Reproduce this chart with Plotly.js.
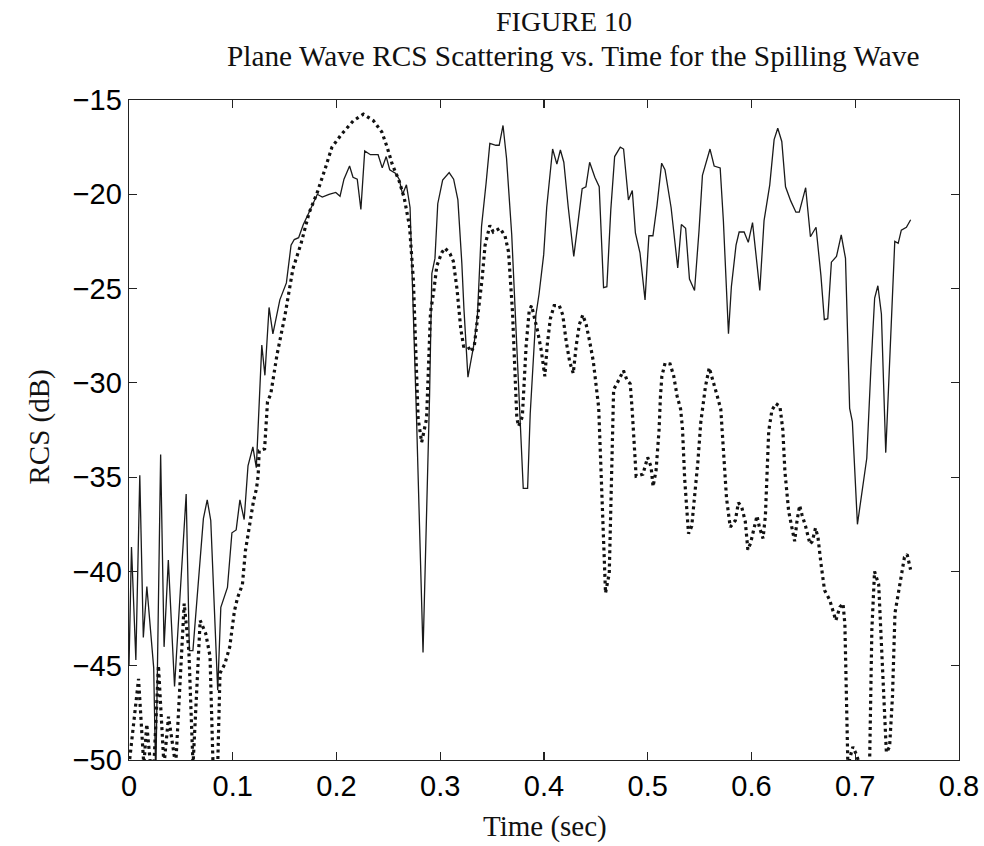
<!DOCTYPE html>
<html>
<head>
<meta charset="utf-8">
<script src="https://cdn.plot.ly/plotly-3.0.1.min.js"></script>
<style>html,body{margin:0;padding:0;background:#fff;}#chart{width:984px;height:846px;}</style>
</head>
<body>
<div id="chart"></div>
<script>
// Solid line: time (sec) and RCS (dB)
const solidTime = [0, 0.0024, 0.0066, 0.0104, 0.0138, 0.0172, 0.0238, 0.0258, 0.0305, 0.0338, 0.0379, 0.0439, 0.0551, 0.0582, 0.0616, 0.0717, 0.0754, 0.0788, 0.0855, 0.0885, 0.0949, 0.0992, 0.1033, 0.1069, 0.111, 0.1147, 0.1194, 0.1227, 0.128, 0.131, 0.135, 0.1387, 0.1454, 0.1517, 0.1562, 0.1593, 0.1635, 0.168, 0.1736, 0.1767, 0.1815, 0.1863, 0.1928, 0.1993, 0.2034, 0.2072, 0.2126, 0.2159, 0.22, 0.2235, 0.2272, 0.2327, 0.2401, 0.2441, 0.2479, 0.2513, 0.2571, 0.2604, 0.2637, 0.2674, 0.2709, 0.2771, 0.2834, 0.2897, 0.2919, 0.2949, 0.2976, 0.3023, 0.3086, 0.3129, 0.317, 0.3208, 0.3228, 0.3267, 0.3298, 0.3328, 0.3358, 0.3398, 0.3442, 0.3478, 0.3536, 0.3568, 0.3605, 0.3639, 0.3689, 0.38, 0.3842, 0.3867, 0.3922, 0.3952, 0.3997, 0.4026, 0.4083, 0.4124, 0.4158, 0.4191, 0.4234, 0.4287, 0.4332, 0.4368, 0.4404, 0.444, 0.449, 0.4532, 0.4574, 0.4606, 0.4644, 0.4681, 0.4735, 0.4767, 0.4814, 0.4851, 0.4881, 0.4925, 0.4974, 0.5011, 0.505, 0.5089, 0.5134, 0.5166, 0.5225, 0.5289, 0.5324, 0.5365, 0.5402, 0.5451, 0.5494, 0.5527, 0.56, 0.564, 0.5698, 0.5729, 0.5778, 0.5806, 0.5851, 0.5881, 0.5929, 0.5969, 0.601, 0.608, 0.6121, 0.6176, 0.6218, 0.6253, 0.6292, 0.6328, 0.6378, 0.6428, 0.646, 0.6522, 0.6568, 0.6591, 0.6622, 0.6669, 0.6702, 0.6735, 0.677, 0.6819, 0.6865, 0.6906, 0.6946, 0.6972, 0.7021, 0.7111, 0.7137, 0.7151, 0.7187, 0.7218, 0.7252, 0.7294, 0.7321, 0.7341, 0.7381, 0.7414, 0.7444, 0.7493, 0.7534];
const solidRCS = [-45, -38.7, -44.7, -34.9, -43.5, -40.8, -45.1, -51, -33.8, -44.0, -39.4, -46.1, -35.9, -44.2, -44.2, -37.2, -36.2, -37.3, -46.3, -41.9, -40.85, -37.95, -37.8, -36.2, -37.25, -34.4, -33.4, -34.5, -28.0, -29.6, -26.0, -27.4, -25.6, -24.7, -22.7, -22.4, -22.3, -21.6, -20.95, -20.55, -20.0, -20.15, -20.0, -19.9, -20.1, -19.2, -18.5, -19.1, -19.2, -20.8, -17.7, -17.9, -17.9, -18.6, -18.0, -18.7, -18.9, -19.2, -20.0, -19.5, -20.7, -31.8, -44.3, -30.7, -24.2, -23.4, -20.5, -19.25, -18.85, -19.2, -20.3, -23.65, -26.05, -29.7, -28.75, -27.85, -26.45, -21.7, -19.4, -17.3, -17.4, -17.4, -16.35, -18.1, -22.15, -35.6, -35.6, -31.65, -26.4, -25.3, -23.2, -20.7, -17.6, -18.4, -17.65, -18.3, -20.7, -23.3, -21.3, -19.7, -19.6, -18.3, -19.1, -19.6, -24.95, -24.9, -20.8, -18.0, -17.5, -17.6, -20.3, -19.8, -22.05, -23.1, -25.6, -22.2, -22.2, -20.6, -18.35, -18.7, -20.7, -23.9, -21.6, -21.8, -24.5, -25.1, -21.95, -19.0, -17.6, -18.5, -18.6, -21.4, -27.4, -24.9, -22.7, -22.0, -22.0, -22.55, -21.5, -25.1, -21.4, -19.5, -17.1, -16.5, -17.2, -19.6, -20.35, -20.95, -20.95, -19.65, -22.25, -22.0, -21.75, -24.3, -26.65, -26.6, -23.6, -23.3, -22.15, -23.4, -31.35, -32.05, -37.5, -34.0, -30.3, -29.2, -25.5, -24.85, -26.35, -33.7, -30.25, -27.45, -22.5, -22.6, -21.9, -21.75, -21.35];

// Dotted line: time (sec) and RCS (dB)
const dottedTime = [0.000, 0.0092, 0.0143, 0.0171, 0.0208, 0.024, 0.0284, 0.0337, 0.0381, 0.045, 0.0532, 0.0577, 0.0617, 0.0686, 0.074, 0.0781, 0.081, 0.0855, 0.0877, 0.0924, 0.0971, 0.1016, 0.1046, 0.1093, 0.1122, 0.1153, 0.1199, 0.1229, 0.1245, 0.1255, 0.1307, 0.1335, 0.1366, 0.1427, 0.1504, 0.158, 0.1659, 0.1735, 0.1815, 0.1893, 0.1956, 0.2051, 0.2163, 0.2259, 0.2356, 0.2437, 0.2488, 0.2537, 0.2604, 0.2653, 0.2704, 0.2741, 0.2787, 0.2821, 0.2868, 0.2906, 0.2936, 0.2967, 0.3014, 0.3045, 0.3094, 0.3126, 0.3162, 0.3198, 0.3225, 0.3264, 0.3297, 0.3328, 0.3358, 0.3403, 0.3432, 0.3478, 0.3511, 0.3576, 0.3624, 0.3658, 0.3696, 0.3738, 0.3755, 0.3791, 0.3828, 0.3857, 0.388, 0.3906, 0.394, 0.3974, 0.4008, 0.4031, 0.4061, 0.4098, 0.4147, 0.4181, 0.4214, 0.4248, 0.4282, 0.4311, 0.4341, 0.4374, 0.4406, 0.444, 0.4475, 0.4527, 0.4593, 0.4629, 0.4671, 0.4702, 0.4766, 0.4799, 0.4831, 0.485, 0.4888, 0.4953, 0.4999, 0.5032, 0.5051, 0.508, 0.5109, 0.5122, 0.5136, 0.5167, 0.5215, 0.5249, 0.5283, 0.5317, 0.5335, 0.5356, 0.5375, 0.5393, 0.5424, 0.5454, 0.5483, 0.5511, 0.5542, 0.5556, 0.5593, 0.5637, 0.567, 0.5704, 0.5724, 0.5759, 0.5795, 0.5844, 0.5874, 0.5906, 0.594, 0.5965, 0.5991, 0.6027, 0.6053, 0.6076, 0.6111, 0.6134, 0.6145, 0.6166, 0.6197, 0.6235, 0.6274, 0.6302, 0.6322, 0.6358, 0.6392, 0.6416, 0.6439, 0.6464, 0.6487, 0.6521, 0.6564, 0.6586, 0.6617, 0.6641, 0.667, 0.6704, 0.6753, 0.6786, 0.6813, 0.6851, 0.6882, 0.69, 0.6929, 0.6977, 0.701, 0.7075, 0.7138, 0.716, 0.7186, 0.7226, 0.7259, 0.73, 0.7331, 0.7359, 0.7383, 0.7429, 0.7474, 0.75, 0.7533];
const dottedRCS = [-50.3, -45.7, -50.3, -48.1, -50.3, -50.3, -45.0, -50.3, -47.7, -50.3, -41.7, -44.2, -50.3, -42.6, -43.3, -44.5, -50.3, -50.3, -45.4, -44.9, -44.0, -42.1, -41.4, -40.7, -38.9, -37.85, -36.3, -35.6, -34.9, -33.6, -33.5, -31.0, -30.6, -28.5, -26.4, -23.95, -22.6, -21.0, -19.9, -18.6, -17.5, -16.8, -16.1, -15.75, -16.1, -16.7, -17.5, -18.4, -19.3, -20.2, -21.7, -24.55, -31.9, -33.15, -31.9, -26.25, -25.2, -23.8, -23.1, -22.85, -23.15, -23.55, -25.05, -27.15, -28.05, -28.05, -28.35, -28.05, -26.65, -24.5, -22.7, -21.65, -22.0, -21.8, -22.2, -23.05, -26.2, -31.85, -32.3, -31.8, -28.0, -26.2, -25.9, -26.5, -27.3, -28.3, -29.65, -28.0, -26.6, -25.9, -25.9, -26.4, -27.8, -28.9, -29.5, -28.0, -26.9, -26.4, -26.9, -27.8, -28.85, -31.3, -41.15, -40.1, -30.35, -30.05, -29.35, -29.85, -30.05, -31.45, -34.95, -34.85, -33.95, -34.45, -35.5, -34.65, -32.5, -30.75, -29.65, -28.95, -29.0, -29.6, -30.7, -31.4, -32.45, -35.1, -36.9, -38.0, -37.6, -36.0, -34.2, -32.1, -30.7, -30.2, -29.2, -30.0, -30.7, -31.4, -33.3, -36.1, -37.65, -37.3, -36.35, -36.6, -37.35, -38.85, -38.5, -37.75, -37.05, -37.65, -38.25, -37.05, -35.25, -32.55, -31.45, -31.1, -31.25, -32.5, -34.7, -36.8, -37.75, -38.4, -37.3, -36.5, -37.0, -37.6, -38.55, -38.4, -37.7, -38.2, -39.6, -41.0, -41.5, -42.1, -42.6, -41.9, -41.7, -42.8, -50.3, -49.3, -49.7, -50.8, -50.3, -43.1, -40.0, -40.7, -44.9, -49.6, -49.3, -46.6, -42.2, -40.65, -39.25, -39.1, -39.9];

// Tick labels
const xTickVals = [0, 0.1, 0.2, 0.3, 0.4, 0.5, 0.6, 0.7, 0.8];
const xTickText = ['0', '0.1', '0.2', '0.3', '0.4', '0.5', '0.6', '0.7', '0.8'];
const yTickVals = [-50, -45, -40, -35, -30, -25, -20, -15];
const yTickText = ['\u221250', '\u221245', '\u221240', '\u221235', '\u221230', '\u221225', '\u221220', '\u221215'];

const serif = 'Liberation Serif, Times New Roman, serif';
const sans = 'Liberation Sans, Arial, Helvetica, sans-serif';

const traces = [
  {
    x: solidTime, y: solidRCS, type: 'scatter', mode: 'lines',
    line: {color: '#1a1a1a', width: 1.3}, showlegend: false, cliponaxis: true
  },
  {
    x: dottedTime, y: dottedRCS, type: 'scatter', mode: 'lines',
    line: {color: '#111111', width: 3.2, dash: '3px,3.6px'}, showlegend: false, cliponaxis: true
  }
];

const axisCommon = {
  ticks: 'inside', ticklen: 8, tickwidth: 1.2, tickcolor: '#222',
  showline: true, linecolor: '#222', linewidth: 1.3, mirror: 'ticks',
  showgrid: false, zeroline: false,
  tickfont: {family: sans, size: 29, color: '#000'}
};

const layout = {
  width: 984, height: 846,
  margin: {l: 129, r: 25, t: 100, b: 86, pad: 0},
  paper_bgcolor: '#ffffff', plot_bgcolor: '#ffffff',
  xaxis: Object.assign({}, axisCommon, {range: [0, 0.8], tickmode: 'array', tickvals: xTickVals, ticktext: xTickText}),
  yaxis: Object.assign({}, axisCommon, {range: [-50, -15], tickmode: 'array', tickvals: yTickVals, ticktext: yTickText}),
  annotations: [
    {text: 'FIGURE 10', xref: 'paper', yref: 'paper', x: 0.524, y: 1.119, xanchor: 'center', yanchor: 'middle', showarrow: false, font: {family: serif, size: 28, color: '#111'}},
    {text: 'Plane Wave RCS Scattering vs. Time for the Spilling Wave', xref: 'paper', yref: 'paper', x: 0.535, y: 1.066, xanchor: 'center', yanchor: 'middle', showarrow: false, font: {family: serif, size: 29.3, color: '#111'}},
    {text: 'Time (sec)', xref: 'paper', yref: 'paper', x: 0.501, y: -0.1, xanchor: 'center', yanchor: 'middle', showarrow: false, font: {family: serif, size: 29, color: '#111'}},
    {text: 'RCS (dB)', xref: 'paper', yref: 'paper', x: -0.109, y: 0.5045, xanchor: 'center', yanchor: 'middle', textangle: -90, showarrow: false, font: {family: serif, size: 29, color: '#111'}}
  ]
};

Plotly.newPlot('chart', traces, layout, {staticPlot: true, displayModeBar: false});
</script>
</body>
</html>
